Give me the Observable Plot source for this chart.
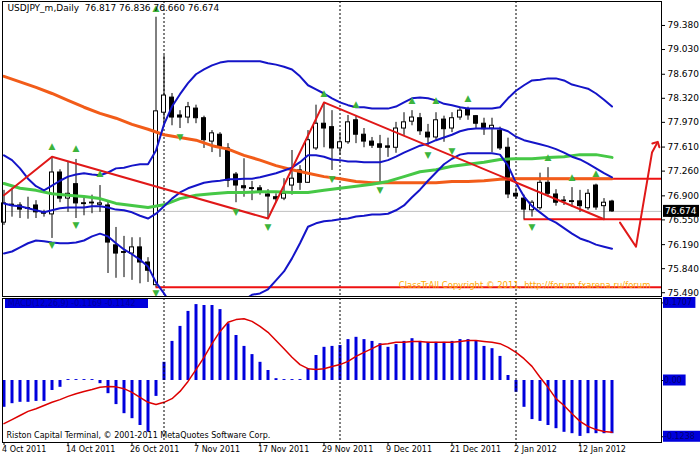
<!DOCTYPE html>
<html><head><meta charset="utf-8">
<script src="https://cdn.jsdelivr.net/npm/d3@7"></script>
<script src="https://cdn.jsdelivr.net/npm/@observablehq/plot@0.6"></script>
<style>
body{margin:0;background:#fff;}
#wrap{position:relative;width:700px;height:455px;overflow:hidden;background:#fff;font-family:"DejaVu Sans",sans-serif;}
#wrap svg{position:absolute;left:0;}
</style></head><body><div id="wrap"></div>
<script>
// ---- candles (daily bars, index 0 = 4 Oct 2011) ----
const opens=[76.51,76.77,76.76,76.72,76.76,76.66,76.63,77.24,76.86,77.07,
76.79,76.79,76.77,76.76,76.18,76.08,76.06,76.15,75.93,75.60,
78.11,78.33,78.07,78.04,78.17,78.03,77.69,77.79,77.59,77.21,
77.04,77.01,77.01,76.92,76.88,76.86,77.05,77.27,77.09,77.59,
77.95,77.90,77.59,77.68,78.00,77.79,77.69,77.65,77.62,77.60,
77.88,77.98,78.03,77.82,77.75,78.01,77.88,78.04,78.16,78.06,
77.95,77.88,77.85,77.60,76.93,76.86,76.69,76.72,77.09,76.92,
76.83,76.82,76.82,76.72,77.05,76.75,76.817];
const highs=[76.98,77.01,76.80,76.88,76.83,76.69,77.47,77.28,77.39,77.43,
76.88,76.91,77.05,76.83,76.44,76.31,76.29,76.29,76.00,79.50,
78.94,78.39,78.14,78.26,78.22,78.06,77.85,77.82,77.66,77.24,
77.44,77.11,77.05,76.99,76.93,77.15,77.56,77.34,77.85,78.22,
78.26,78.14,77.82,78.07,78.07,77.88,77.75,77.78,77.74,77.97,
78.11,78.14,78.10,77.94,78.11,78.06,78.11,78.19,78.19,78.07,
78.03,78.03,77.90,77.74,77.01,76.91,76.83,77.23,77.31,76.99,
76.89,77.02,76.98,76.99,77.07,76.86,76.836];
const lows=[76.47,76.59,76.57,76.56,76.57,76.59,76.28,76.80,76.66,76.57,
76.61,76.64,76.66,75.77,75.70,75.71,75.67,75.62,75.64,75.57,
77.92,77.92,77.88,77.95,77.95,77.59,77.53,77.46,77.02,76.80,
76.88,76.83,76.91,76.57,76.80,76.83,76.91,76.98,77.08,77.56,
77.60,77.27,77.49,77.65,77.66,77.60,77.59,77.09,77.46,77.52,
77.78,77.92,77.78,77.63,77.71,77.68,77.82,78.00,78.00,77.88,
77.78,77.53,77.56,76.86,76.85,76.56,76.59,76.69,76.88,76.75,
76.76,76.73,76.66,76.69,76.69,76.56,76.660];
const closes=[76.79,76.76,76.70,76.71,76.66,76.64,77.24,76.86,76.93,76.79,
76.78,76.80,76.79,76.22,76.06,76.07,76.15,75.93,75.81,78.13,
78.36,78.04,78.04,78.19,78.03,77.71,77.81,77.60,77.12,77.05,
77.01,77.00,76.96,76.89,76.85,76.93,77.15,77.09,77.71,77.95,
77.88,77.59,77.68,77.97,77.79,77.69,77.63,77.60,77.60,77.88,
77.97,78.04,77.84,77.75,78.00,77.87,78.03,78.14,78.07,77.95,
77.87,77.92,77.59,76.92,76.89,76.70,76.80,77.09,76.93,76.80,
76.82,76.81,76.75,76.93,76.73,76.80,76.674];

// ---- Bollinger bands ----
const bbUpper=[77.49,77.42,77.30,77.15,77.04,76.98,77.05,77.12,77.18,77.21,
77.23,77.21,77.20,77.24,77.30,77.31,77.34,77.36,77.36,77.56,
77.94,78.20,78.38,78.54,78.67,78.74,78.80,78.84,78.86,78.86,
78.86,78.86,78.86,78.83,78.81,78.78,78.74,78.64,78.51,78.45,
78.39,78.32,78.26,78.22,78.19,78.19,78.17,78.17,78.17,78.20,
78.26,78.32,78.33,78.32,78.29,78.24,78.22,78.19,78.17,78.17,
78.17,78.17,78.19,78.32,78.43,78.51,78.58,78.59,78.61,78.61,
78.58,78.52,78.49,78.46,78.39,78.30,78.20];
const bbMiddle=[76.79,76.76,76.75,76.72,76.69,76.66,76.69,76.72,76.73,76.73,
76.73,76.75,76.75,76.73,76.70,76.69,76.66,76.61,76.57,76.64,
76.75,76.86,76.95,77.01,77.05,77.09,77.11,77.12,77.14,77.14,
77.15,77.15,77.17,77.20,77.23,77.27,77.31,77.39,77.49,77.49,
77.47,77.43,77.42,77.40,77.40,77.39,77.39,77.39,77.42,77.47,
77.53,77.58,77.63,77.66,77.71,77.75,77.79,77.84,77.87,77.88,
77.88,77.88,77.88,77.84,77.76,77.71,77.68,77.65,77.62,77.58,
77.53,77.47,77.43,77.37,77.30,77.23,77.17];
const bbLower=[76.06,76.09,76.15,76.21,76.25,76.24,76.22,76.21,76.21,76.22,
76.25,76.31,76.35,76.31,76.21,76.12,76.05,75.97,75.87,75.64,
75.48,75.30,75.20,75.11,75.06,75.03,75.03,75.06,75.11,75.20,
75.38,75.46,75.48,75.54,75.67,75.80,75.99,76.21,76.45,76.50,
76.53,76.54,76.56,76.57,76.60,76.61,76.63,76.63,76.64,76.69,
76.76,76.88,76.99,77.12,77.24,77.36,77.44,77.50,77.52,77.52,
77.52,77.52,77.50,77.34,77.09,76.89,76.75,76.66,76.57,76.51,
76.43,76.35,76.28,76.24,76.19,76.16,76.13];

// ---- moving averages, read every second bar (0,2,...,76) ----
const maOrange=[78.64,78.56,78.48,78.39,78.29,78.19,78.10,78.03,77.94,77.87,
77.79,77.75,77.71,77.63,77.58,77.49,77.42,77.34,77.28,77.23,
77.18,77.15,77.11,77.09,77.09,77.09,77.09,77.09,77.11,77.11,
77.12,77.14,77.15,77.15,77.15,77.15,77.15,77.15,77.15];
const maGreen=[77.08,77.01,76.98,76.93,76.91,76.89,76.86,76.79,76.76,76.73,
76.77,76.86,76.91,76.93,76.95,76.95,76.96,76.96,76.95,76.95,
76.98,77.01,77.04,77.07,77.11,77.18,77.25,77.28,77.33,77.36,
77.39,77.43,77.44,77.44,77.46,77.47,77.50,77.50,77.46];

// ---- zigzag, levels, projection ----
const zigIdx=[0,6,33,40,75];
const zigPrice=[76.91,77.47,76.57,78.26,76.56];
const levelPrice=[75.57,76.56,77.15];
const levelFrom=[19,65,62];
const projIdx=[77,79,81,81.6];
const projPrice=[76.51,76.16,77.53,77.66];

// ---- fractal arrows ----
const upIdx=[6,9,12,19,40,44,51,54,58,68,71,74];
const upPrice=[77.62,77.59,77.23,79.64,78.40,78.24,78.30,78.29,78.33,77.47,77.18,77.23];
const dnIdx=[6,9,19,22,29,33,41,47,53,56,66];
const dnPrice=[76.18,76.47,75.48,77.75,76.66,76.44,77.15,76.99,77.49,77.55,76.45];

// ---- oscillator ----
const hist=[-0.059,-0.051,-0.048,-0.048,-0.046,-0.046,-0.022,-0.015,0.002,0.002,
0.002,0.002,-0.007,-0.029,-0.053,-0.073,-0.084,-0.099,-0.114,-0.035,
0.040,0.086,0.119,0.152,0.167,0.165,0.165,0.156,0.125,0.099,
0.075,0.057,0.040,0.022,0.004,0.002,0.002,0.002,0.026,0.055,
0.073,0.075,0.077,0.090,0.095,0.090,0.086,0.081,0.073,0.079,
0.086,0.092,0.086,0.084,0.084,0.084,0.086,0.090,0.090,0.086,
0.075,0.070,0.053,0.011,-0.026,-0.059,-0.086,-0.090,-0.099,-0.106,
-0.114,-0.117,-0.123,-0.117,-0.117,-0.117,-0.117];
const signal=[-0.095,-0.086,-0.077,-0.068,-0.062,-0.055,-0.048,-0.042,-0.035,-0.029,
-0.024,-0.020,-0.015,-0.013,-0.014,-0.018,-0.026,-0.037,-0.048,-0.053,
-0.048,-0.040,-0.024,-0.002,0.024,0.051,0.081,0.108,0.128,0.134,
0.136,0.130,0.119,0.106,0.088,0.070,0.051,0.035,0.026,0.024,
0.026,0.031,0.035,0.042,0.053,0.062,0.070,0.079,0.081,0.084,
0.084,0.086,0.086,0.084,0.084,0.084,0.084,0.086,0.088,0.088,
0.086,0.084,0.081,0.073,0.062,0.048,0.031,0.007,-0.015,-0.040,
-0.055,-0.073,-0.090,-0.101,-0.108,-0.112,-0.114];

// ---- axes / labels ----
const priceTicks=[79.380,79.030,78.670,78.320,77.970,77.610,77.260,76.900,76.550,76.190,75.840,75.490];
const dateIdx=[0,8,16,24,32,40,48,56,64,72];
const dateLabels=["4 Oct 2011","14 Oct 2011","26 Oct 2011","7 Nov 2011","17 Nov 2011","29 Nov 2011","9 Dec 2011","21 Dec 2011","2 Jan 2012","12 Jan 2012"];
const separatorIdx=[20,42,64];
const oscLabels=[0.1707,0,-0.1238];
const oscLabelText=["0.1707","0.00","-0.1238"];
const lastPrice=76.674;
const titleText="USDJPY_m,Daily  76.817 76.836 76.660 76.674";
const creditText="Riston Capital Terminal, © 2001-2011 MetaQuotes Software Corp.";
const copyText="ClassTrAll Copyright © 2011, http://forum.fxarena.ru/forum";
const oscTitle="MACD(12,26,9) -0.1169 -0.1142";

// ---- build tables ----
const candles=opens.map((o,i)=>({i,o,h:highs[i],l:lows[i],c:closes[i]}));
const bands=bbUpper.map((u,i)=>({i,u,m:bbMiddle[i],lo:bbLower[i]}));
const mas=maOrange.map((v,k)=>({i:k*2,o:v,g:maGreen[k]}));
const zig=zigIdx.map((i,k)=>({i,p:zigPrice[k]}));
const levels=levelPrice.map((p,k)=>({p,from:levelFrom[k]}));
const proj=projIdx.map((i,k)=>({i,p:projPrice[k]}));
const ups=upIdx.map((i,k)=>({i,p:upPrice[k]}));
const dns=dnIdx.map((i,k)=>({i,p:dnPrice[k]}));
const osc=hist.map((v,i)=>({i,v,s:signal[i]}));
const dates=dateIdx.map((i,k)=>({i,label:dateLabels[k]}));

const XDOM=[-0.1875,82.1875];
const PDOM=[75.435,79.729];
const ODOM=[-0.1364,0.1804];
const font="DejaVu Sans, sans-serif";
const BLUE="#1414c8";

const up=d=>d.c>=d.o;
const bodyY1=d=>Math.min(d.o,d.c);
const bodyY2=d=>Math.max(d.o,d.c,Math.min(d.o,d.c)+0.012);

const main=Plot.plot({
  width:700,height:297,marginLeft:2,marginRight:39,marginTop:1,marginBottom:1,
  x:{domain:XDOM,axis:null},
  y:{domain:PDOM,axis:null},
  style:{background:"white",fontFamily:font},
  marks:[
    Plot.ruleY([lastPrice],{stroke:"#c0c0c0"}),
    Plot.ruleX(separatorIdx,{stroke:"black",strokeDasharray:"2,2"}),
    Plot.ruleY(levels,{y:"p",x1:"from",x2:()=>XDOM[1],stroke:"#ee1111",strokeWidth:2}),
    Plot.text([copyText],{frameAnchor:"bottom-right",dx:-11,dy:-9,textAnchor:"end",fill:"#ffaa00",fontSize:8.5}),
    Plot.ruleX(candles,{x:"i",y1:"l",y2:"h",stroke:"black"}),
    Plot.rect(candles.filter(up),{x1:d=>d.i-0.25,x2:d=>d.i+0.25,y1:bodyY1,y2:bodyY2,fill:"white",stroke:"black"}),
    Plot.rect(candles.filter(d=>!up(d)),{x1:d=>d.i-0.25,x2:d=>d.i+0.25,y1:bodyY1,y2:bodyY2,fill:"black",stroke:"black"}),
    Plot.line(mas,{x:"i",y:"o",stroke:"#f25c19",strokeWidth:3}),
    Plot.line(mas,{x:"i",y:"g",stroke:"#46c846",strokeWidth:3}),
    Plot.line(bands,{x:"i",y:"u",stroke:BLUE,strokeWidth:2}),
    Plot.line(bands,{x:"i",y:"m",stroke:BLUE,strokeWidth:2}),
    Plot.line(bands,{x:"i",y:"lo",stroke:BLUE,strokeWidth:2}),
    Plot.line(zig,{x:"i",y:"p",stroke:"#e01818",strokeWidth:2}),
    Plot.line(proj,{x:"i",y:"p",stroke:"#e01818",strokeWidth:2,markerEnd:"arrow"}),
    Plot.text(ups,{x:"i",y:"p",text:()=>"▲",fill:"#3cb43c",fontSize:9}),
    Plot.text(dns,{x:"i",y:"p",text:()=>"▼",fill:"#3cb43c",fontSize:9}),
    Plot.text([titleText],{frameAnchor:"top-left",dx:5,dy:3,lineAnchor:"top",textAnchor:"start",fontSize:9,fill:"black"}),
    Plot.ruleY(priceTicks,{x1:()=>XDOM[1],x2:()=>XDOM[1]+0.5,stroke:"black"}),
    Plot.text(priceTicks,{x:()=>XDOM[1],y:d=>d,text:d=>d.toFixed(3),dx:6,textAnchor:"start",fontSize:9,fill:"black"}),
    Plot.frame({stroke:"black"})
  ]
});

const ind=Plot.plot({
  width:700,height:158,marginLeft:2,marginRight:39,marginTop:1,marginBottom:13,
  x:{domain:XDOM,axis:null},
  y:{domain:ODOM,axis:null},
  style:{background:"white",fontFamily:font},
  marks:[
    Plot.ruleX(osc,{x:"i",y1:()=>0,y2:"v",stroke:"#0000dd",strokeWidth:3}),
    Plot.line(osc,{x:"i",y:"s",stroke:"#dd0000",strokeWidth:1.5}),
    Plot.ruleX(separatorIdx,{stroke:"black",strokeDasharray:"2,2"}),
    Plot.text([creditText],{frameAnchor:"bottom-left",dx:4,dy:-5,textAnchor:"start",fontSize:8,fill:"black"}),
    Plot.ruleX(dates,{x:"i",y1:()=>ODOM[0],y2:()=>ODOM[0]-0.0066,stroke:"black"}),
    Plot.text(dates,{x:"i",y:()=>ODOM[0],text:"label",dx:-2,dy:7,textAnchor:"start",fontSize:8,fill:"black"}),
    Plot.ruleY(oscLabels,{x1:()=>XDOM[1],x2:()=>XDOM[1]+0.5,stroke:"black"}),
    Plot.frame({stroke:"black"})
  ]
});
ind.style.top="297px";
main.style.top="0px";
const wrap=document.getElementById("wrap");
wrap.appendChild(main);
wrap.appendChild(ind);

// price label for the last close
const ys=main.scale("y"), xs=main.scale("x");
const gm=d3.select(main).append("g").attr("text-anchor","start");
const ly=ys.apply(lastPrice), lx=xs.apply(XDOM[1]);
gm.append("rect").attr("x",lx+2).attr("y",ly-6).attr("width",36).attr("height",12).attr("fill","black");
gm.append("text").attr("x",lx+4).attr("y",ly).attr("dy","0.35em").attr("fill","white").attr("text-anchor","start")
  .attr("font-size",9).attr("font-family",font).text(lastPrice.toFixed(3));

// oscillator axis boxes and title box
const oy=ind.scale("y"), ox=ind.scale("x");
const gi=d3.select(ind).append("g").attr("text-anchor","start");
oscLabels.forEach((v,k)=>{
  const y=oy.apply(v), w=oscLabelText[k].length*4.9+3;
  gi.append("rect").attr("x",ox.apply(XDOM[1])+2).attr("y",y-5.5).attr("width",w).attr("height",11).attr("fill","#0000dd");
  gi.append("text").attr("x",ox.apply(XDOM[1])+3).attr("y",y).attr("dy","0.35em").attr("fill","#000070").attr("text-anchor","start")
    .attr("font-size",8).attr("font-family",font).text(oscLabelText[k]);
});
const tx=ox.apply(XDOM[0])+3, ty=oy.apply(ODOM[1])+1;
gi.append("rect").attr("x",tx).attr("y",ty).attr("width",143).attr("height",9).attr("fill","#0000dd");
gi.append("text").attr("x",tx+3).attr("y",ty+4.5).attr("dy","0.35em").attr("fill","#0000a0").attr("text-anchor","start")
  .attr("font-size",8).attr("font-family",font).text(oscTitle);
</script></body></html>
